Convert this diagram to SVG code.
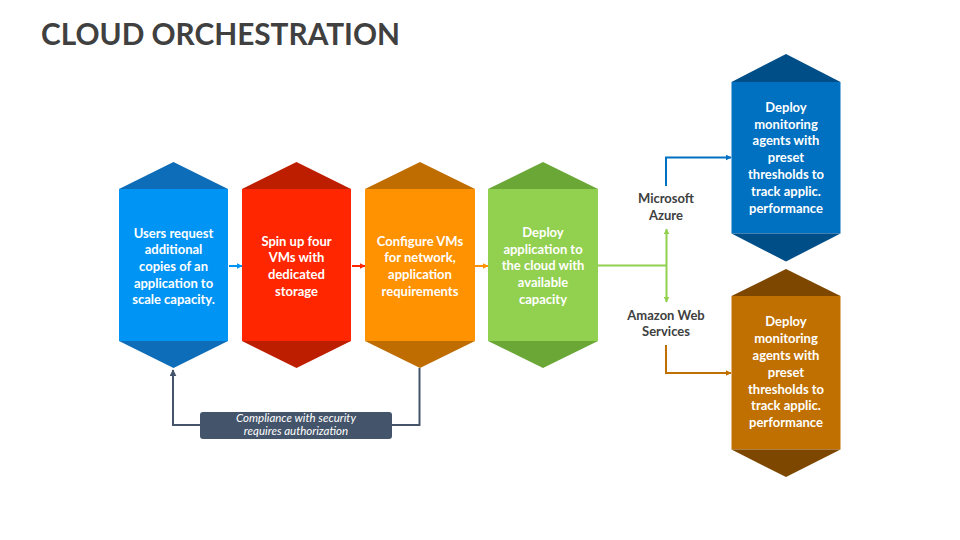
<svg xmlns="http://www.w3.org/2000/svg" width="960" height="540" viewBox="0 0 960 540">
  <defs>
    <style>
      .title { font-family: Lato, "Open Sans", "Liberation Sans", sans-serif; font-weight: 700; font-size: 30px; fill: #404040; }
      .nt { font-family: Lato, "Open Sans", "Liberation Sans", sans-serif; font-weight: 700; font-size: 13px; fill: #FFFFFF; text-anchor: middle; }
      .lbl { font-family: Lato, "Open Sans", "Liberation Sans", sans-serif; font-weight: 700; font-size: 13px; fill: #404040; text-anchor: middle; }
      .note { font-family: Lato, "Open Sans", "Liberation Sans", sans-serif; font-style: italic; font-size: 11.5px; fill: #FFFFFF; text-anchor: middle; }
      .ln { fill: none; stroke-width: 2; }
    </style>
    <marker id="aBlueL" viewBox="0 0 10 10" refX="9" refY="5" markerWidth="6" markerHeight="6" markerUnits="userSpaceOnUse" orient="auto-start-reverse"><path d="M0,0 L10,5 L0,10 Z" fill="#0094F4"/></marker>
    <marker id="aRed" viewBox="0 0 10 10" refX="9" refY="5" markerWidth="6" markerHeight="6" markerUnits="userSpaceOnUse" orient="auto-start-reverse"><path d="M0,0 L10,5 L0,10 Z" fill="#FF2600"/></marker>
    <marker id="aOrg" viewBox="0 0 10 10" refX="9" refY="5" markerWidth="6" markerHeight="6" markerUnits="userSpaceOnUse" orient="auto-start-reverse"><path d="M0,0 L10,5 L0,10 Z" fill="#FF9200"/></marker>
    <marker id="aGrn" viewBox="0 0 10 10" refX="9" refY="5" markerWidth="6" markerHeight="6" markerUnits="userSpaceOnUse" orient="auto-start-reverse"><path d="M0,0 L10,5 L0,10 Z" fill="#92D050"/></marker>
    <marker id="aBlue" viewBox="0 0 10 10" refX="9" refY="5" markerWidth="6" markerHeight="6" markerUnits="userSpaceOnUse" orient="auto-start-reverse"><path d="M0,0 L10,5 L0,10 Z" fill="#0070C0"/></marker>
    <marker id="aBrn" viewBox="0 0 10 10" refX="9" refY="5" markerWidth="6" markerHeight="6" markerUnits="userSpaceOnUse" orient="auto-start-reverse"><path d="M0,0 L10,5 L0,10 Z" fill="#C07000"/></marker>
    <marker id="aGray" viewBox="0 0 10 10" refX="9" refY="5" markerWidth="7" markerHeight="7" markerUnits="userSpaceOnUse" orient="auto-start-reverse"><path d="M0,0 L10,5 L0,10 Z" fill="#44546A"/></marker>
  </defs>

  <rect width="960" height="540" fill="#FFFFFF"/>

  <text class="title" x="41" y="45" textLength="359" lengthAdjust="spacingAndGlyphs">CLOUD ORCHESTRATION</text>

  <g id="connectors">
    <line class="ln" x1="229" y1="266" x2="242" y2="266" stroke="#0094F4" marker-end="url(#aBlueL)"/>
    <line class="ln" x1="352" y1="266" x2="365" y2="266" stroke="#FF2600" marker-end="url(#aRed)"/>
    <line class="ln" x1="475" y1="266" x2="488" y2="266" stroke="#FF9200" marker-end="url(#aOrg)"/>
    <line class="ln" x1="598" y1="265.5" x2="667" y2="265.5" stroke="#92D050"/>
    <line class="ln" x1="666.5" y1="229" x2="666.5" y2="302" stroke="#92D050" marker-start="url(#aGrn)" marker-end="url(#aGrn)"/>
    <polyline class="ln" points="666,186 666,157.5 731,157.5" stroke="#0070C0" marker-end="url(#aBlue)"/>
    <polyline class="ln" points="666,345 666,373 731,373" stroke="#C07000" marker-end="url(#aBrn)"/>
    <polyline class="ln" points="419.5,368 419.5,425 392,425" stroke="#44546A"/>
    <polyline class="ln" points="200,425 173,425 173,370" stroke="#44546A" marker-end="url(#aGray)"/>
  </g>

  <g id="node1">
    <polygon points="119,189 173.5,162 228,189" fill="#0E6DB8"/>
    <rect x="119" y="189" width="109" height="152" fill="#0094F4"/>
    <polygon points="119,341 173.5,368 228,341" fill="#0E6DB8"/>
    <text class="nt" x="173.5" y="237.5">Users request</text>
    <text class="nt" x="173.5" y="254.2">additional</text>
    <text class="nt" x="173.5" y="271">copies of an</text>
    <text class="nt" x="173.5" y="287.7">application to</text>
    <text class="nt" x="173.5" y="304.4">scale capacity.</text>
  </g>

  <g id="node2">
    <polygon points="242,189 296.5,162 351,189" fill="#BE1E00"/>
    <rect x="242" y="189" width="109" height="152" fill="#FF2600"/>
    <polygon points="242,341 296.5,368 351,341" fill="#BE1E00"/>
    <text class="nt" x="296.5" y="245.7">Spin up four</text>
    <text class="nt" x="296.5" y="262.4">VMs with</text>
    <text class="nt" x="296.5" y="279.1">dedicated</text>
    <text class="nt" x="296.5" y="295.8">storage</text>
  </g>

  <g id="node3">
    <polygon points="365,189 420,162 475,189" fill="#BF6D00"/>
    <rect x="365" y="189" width="110" height="152" fill="#FF9200"/>
    <polygon points="365,341 420,368 475,341" fill="#BF6D00"/>
    <text class="nt" x="420" y="245.5">Configure VMs</text>
    <text class="nt" x="420" y="262.2">for network,</text>
    <text class="nt" x="420" y="278.9">application</text>
    <text class="nt" x="420" y="295.6">requirements</text>
  </g>

  <g id="node4">
    <polygon points="488,189 543,162 598,189" fill="#6AA737"/>
    <rect x="488" y="189" width="110" height="152" fill="#92D050"/>
    <polygon points="488,341 543,368 598,341" fill="#6AA737"/>
    <text class="nt" x="543" y="237">Deploy</text>
    <text class="nt" x="543" y="253.7">application to</text>
    <text class="nt" x="543" y="270.4">the cloud with</text>
    <text class="nt" x="543" y="287.1">available</text>
    <text class="nt" x="543" y="303.8">capacity</text>
  </g>

  <g id="label-azure">
    <text class="lbl" x="666" y="203">Microsoft</text>
    <text class="lbl" x="666" y="219.5">Azure</text>
  </g>

  <g id="label-aws">
    <text class="lbl" x="666" y="319.5">Amazon Web</text>
    <text class="lbl" x="666" y="336">Services</text>
  </g>

  <g id="node-azure">
    <polygon points="731.5,82 786,54 840.5,82" fill="#004E87"/>
    <rect x="731.5" y="82" width="109" height="151.5" fill="#0070C0"/>
    <polygon points="731.5,233.5 786,261.5 840.5,233.5" fill="#004E87"/>
    <text class="nt" x="786" y="111.7">Deploy</text>
    <text class="nt" x="786" y="128.5">monitoring</text>
    <text class="nt" x="786" y="145.3">agents with</text>
    <text class="nt" x="786" y="162.1">preset</text>
    <text class="nt" x="786" y="178.9">thresholds to</text>
    <text class="nt" x="786" y="195.7">track applic.</text>
    <text class="nt" x="786" y="212.5">performance</text>
  </g>

  <g id="node-aws">
    <polygon points="731.5,296 786,269 840.5,296" fill="#7D4700"/>
    <rect x="731.5" y="296" width="109" height="153.5" fill="#C07000"/>
    <polygon points="731.5,449.5 786,477 840.5,449.5" fill="#7D4700"/>
    <text class="nt" x="786" y="326.3">Deploy</text>
    <text class="nt" x="786" y="343.1">monitoring</text>
    <text class="nt" x="786" y="359.9">agents with</text>
    <text class="nt" x="786" y="376.7">preset</text>
    <text class="nt" x="786" y="393.5">thresholds to</text>
    <text class="nt" x="786" y="410.3">track applic.</text>
    <text class="nt" x="786" y="427.1">performance</text>
  </g>

  <g id="note">
    <rect x="200" y="412" width="192" height="27" rx="3" ry="3" fill="#44546A"/>
    <text class="note" x="296" y="422">Compliance with security</text>
    <text class="note" x="296" y="435.3">requires authorization</text>
  </g>
</svg>
